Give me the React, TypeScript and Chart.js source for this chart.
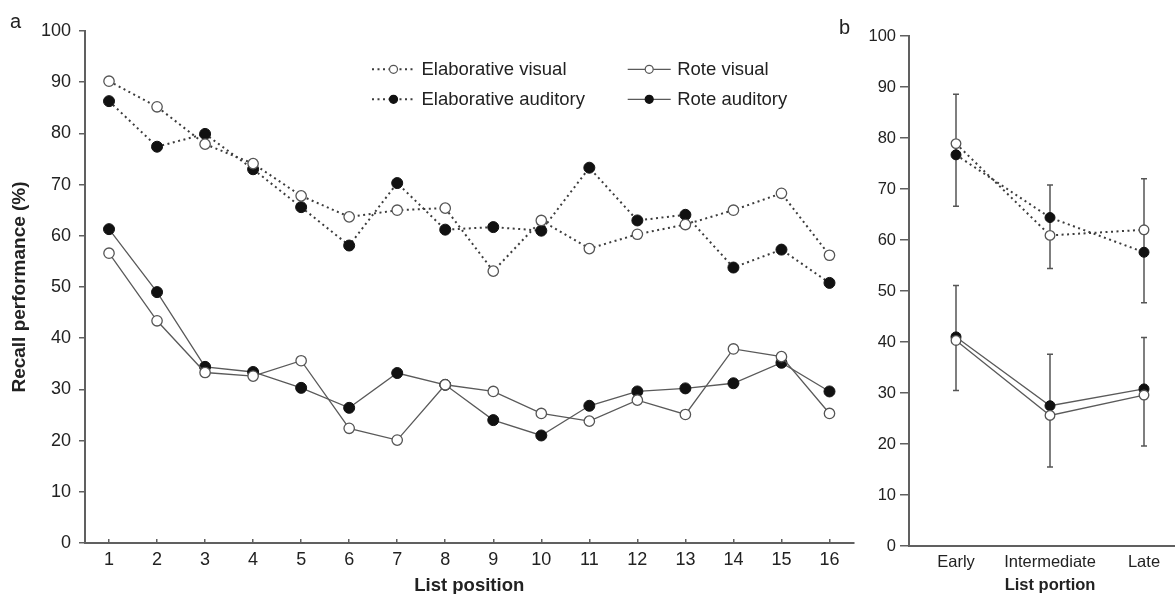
import React, { useEffect, useRef } from "react";
import { Chart, registerables } from "chart.js";

Chart.register(...registerables);

// ---------- data ----------
const listPositions = ["1", "2", "3", "4", "5", "6", "7", "8", "9", "10", "11", "12", "13", "14", "15", "16"];
const seriesNames = ["Elaborative visual", "Elaborative auditory", "Rote visual", "Rote auditory"];
const elabVisual = [90.2, 85.2, 77.9, 74.1, 67.8, 63.7, 65.0, 65.4, 53.1, 63.0, 57.5, 60.3, 62.2, 65.0, 68.3, 56.2];
const elabAuditory = [86.3, 77.4, 79.9, 73.0, 65.6, 58.1, 70.3, 61.2, 61.7, 61.0, 73.3, 63.0, 64.1, 53.8, 57.3, 50.8];
const roteVisual = [56.6, 43.4, 33.3, 32.6, 35.6, 22.4, 20.1, 30.9, 29.6, 25.3, 23.8, 27.9, 25.1, 37.9, 36.4, 25.3];
const roteAuditory = [61.3, 49.0, 34.4, 33.4, 30.3, 26.4, 33.2, 30.9, 24.0, 21.0, 26.8, 29.6, 30.2, 31.2, 35.2, 29.6];

const listPortions = ["Early", "Intermediate", "Late"];
const portionElabVisual = [78.9, 60.9, 62.0];
const portionElabAuditory = [76.7, 64.4, 57.6];
const portionRoteVisual = [40.3, 25.6, 29.6];
const portionRoteAuditory = [41.0, 27.5, 30.8];
const elabErrLow = [66.6, 54.4, 47.7];
const elabErrHigh = [88.6, 70.8, 72.0];
const roteErrLow = [30.5, 15.5, 19.6];
const roteErrHigh = [51.1, 37.6, 40.9];

const yMin = 0;
const yMax = 100;
const yStep = 10;

// ---------- styles ----------
const FONT = '"Liberation Sans", Arial, Helvetica, sans-serif';
const AXIS = "#606060";
const TEXT = "#222";

function lineSet(label: string, data: number[], dotted: boolean, filled: boolean, r: number) {
  return {
    label,
    data,
    borderColor: dotted ? "#3c3c3c" : "#5a5a5a",
    borderWidth: dotted ? 2 : 1.3,
    borderDash: dotted ? [2, 3.5] : [],
    borderCapStyle: "butt",
    pointRadius: r,
    pointHoverRadius: r,
    pointBackgroundColor: filled ? "#111" : "#fff",
    pointBorderColor: filled ? "#111" : "#555",
    pointBorderWidth: filled ? 1 : 1.3,
    tension: 0,
    fill: false,
  };
}

function panelLabel(text: string, x: number, y: number) {
  return {
    id: "panelLabel" + text,
    afterDraw(chart: any) {
      const ctx = chart.ctx;
      ctx.save();
      ctx.font = `20px ${FONT}`;
      ctx.fillStyle = TEXT;
      ctx.textBaseline = "alphabetic";
      ctx.textAlign = "left";
      ctx.fillText(text, x, y);
      ctx.restore();
    },
  };
}

const legendPlugin = {
  id: "customLegend",
  afterDraw(chart: any) {
    const ctx = chart.ctx;
    const cols = [372, 627.7];
    const rows = [69.3, 99.3];
    const styles = [
      { dotted: true, filled: false },
      { dotted: true, filled: true },
      { dotted: false, filled: false },
      { dotted: false, filled: true },
    ];
    ctx.save();
    seriesNames.forEach((name, i) => {
      const x = cols[Math.floor(i / 2)];
      const y = rows[i % 2];
      const s = styles[i];
      ctx.beginPath();
      ctx.strokeStyle = s.dotted ? "#3c3c3c" : "#5a5a5a";
      ctx.lineWidth = s.dotted ? 2 : 1.3;
      ctx.setLineDash(s.dotted ? [2, 3.5] : []);
      ctx.moveTo(x, y);
      ctx.lineTo(x + 43, y);
      ctx.stroke();
      ctx.setLineDash([]);
      ctx.beginPath();
      ctx.arc(x + 21.5, y, 4, 0, Math.PI * 2);
      ctx.fillStyle = s.filled ? "#111" : "#fff";
      ctx.fill();
      ctx.lineWidth = 1.2;
      ctx.strokeStyle = s.filled ? "#111" : "#555";
      ctx.stroke();
      ctx.font = `18.5px ${FONT}`;
      ctx.fillStyle = TEXT;
      ctx.textAlign = "left";
      ctx.textBaseline = "middle";
      ctx.fillText(name, x + 49.5, y + 0.5);
    });
    ctx.restore();
  },
};

const errorBarPlugin = {
  id: "errorBars",
  beforeDatasetsDraw(chart: any) {
    const ctx = chart.ctx;
    const xs = chart.scales.x;
    const ys = chart.scales.y;
    const groups = [
      [elabErrLow, elabErrHigh],
      [roteErrLow, roteErrHigh],
    ];
    ctx.save();
    ctx.strokeStyle = "#555";
    ctx.lineWidth = 1.5;
    groups.forEach(([lo, hi]) => {
      lo.forEach((v, i) => {
        const x = xs.getPixelForValue(i);
        const y1 = ys.getPixelForValue(v);
        const y2 = ys.getPixelForValue(hi[i]);
        ctx.beginPath();
        ctx.moveTo(x, y1);
        ctx.lineTo(x, y2);
        ctx.moveTo(x - 3, y1);
        ctx.lineTo(x + 3, y1);
        ctx.moveTo(x - 3, y2);
        ctx.lineTo(x + 3, y2);
        ctx.stroke();
      });
    });
    ctx.restore();
  },
};

export default function App() {
  const refA = useRef<HTMLCanvasElement | null>(null);
  const refB = useRef<HTMLCanvasElement | null>(null);

  useEffect(() => {
    if (!refA.current || !refB.current) return;

    const chartA = new Chart(refA.current, {
      type: "line",
      data: {
        labels: listPositions,
        datasets: [
          lineSet(seriesNames[0], elabVisual, true, false, 5.2),
          lineSet(seriesNames[1], elabAuditory, true, true, 5.5),
          lineSet(seriesNames[2], roteVisual, false, false, 5.2),
          lineSet(seriesNames[3], roteAuditory, false, true, 5.5),
        ] as any,
      },
      options: {
        responsive: false,
        animation: false,
        layout: { padding: { top: 31, right: 5, left: 0, bottom: 0 } },
        plugins: { legend: { display: false }, tooltip: { enabled: false } },
        scales: {
          x: {
            type: "category",
            offset: true,
            grid: { display: true, drawOnChartArea: false, drawTicks: true, tickLength: -4, offset: false, color: AXIS, lineWidth: 1.5 },
            border: { display: true, color: AXIS, width: 2 },
            ticks: { padding: 10, color: TEXT, font: { size: 18, family: FONT }, autoSkip: false, maxRotation: 0 },
            title: { display: true, text: "List position", color: TEXT, font: { size: 18.5, weight: "bold", family: FONT, lineHeight: 1 }, padding: { top: 0, bottom: -1 } },
            afterFit: (s: any) => { s.height = 51; },
          },
          y: {
            min: yMin,
            max: yMax,
            ticks: { stepSize: yStep, padding: 8, color: TEXT, font: { size: 18, family: FONT } },
            grid: { display: true, drawOnChartArea: false, drawTicks: true, tickLength: 6, color: AXIS, lineWidth: 1.5 },
            border: { display: true, color: AXIS, width: 2 },
            title: { display: true, text: "Recall performance (%)", color: TEXT, font: { size: 19, weight: "bold", family: FONT, lineHeight: 1.2 }, padding: { top: 8.5, bottom: 0 } },
            afterFit: (s: any) => { s.width = 85; },
          },
        },
      } as any,
      plugins: [legendPlugin, panelLabel("a", 10, 28)],
    });

    const chartB = new Chart(refB.current, {
      type: "line",
      data: {
        labels: listPortions,
        datasets: [
          lineSet(seriesNames[0], portionElabVisual, true, false, 4.8),
          lineSet(seriesNames[1], portionElabAuditory, true, true, 5),
          lineSet(seriesNames[2], portionRoteVisual, false, false, 4.8),
          lineSet(seriesNames[3], portionRoteAuditory, false, true, 5),
        ] as any,
      },
      options: {
        responsive: false,
        animation: false,
        layout: { padding: { top: 36, right: 9, left: 0, bottom: 0 } },
        plugins: { legend: { display: false }, tooltip: { enabled: false } },
        scales: {
          x: {
            type: "category",
            offset: true,
            grid: { display: false, drawTicks: false },
            border: { display: true, color: AXIS, width: 2 },
            ticks: { padding: 6.4, color: TEXT, font: { size: 16.5, family: FONT }, autoSkip: false, maxRotation: 0 },
            title: { display: true, text: "List portion", color: TEXT, font: { size: 16.5, weight: "bold", family: FONT, lineHeight: 1 }, padding: { top: 0, bottom: 0 } },
            afterFit: (s: any) => { s.height = 48; },
          },
          y: {
            min: yMin,
            max: yMax,
            ticks: { stepSize: yStep, padding: 4, color: TEXT, font: { size: 16.5, family: FONT } },
            grid: { display: true, drawOnChartArea: false, drawTicks: true, tickLength: 9, color: AXIS, lineWidth: 1.5 },
            border: { display: true, color: AXIS, width: 2 },
            afterFit: (s: any) => { s.width = 79; },
          },
        },
      } as any,
      plugins: [errorBarPlugin, panelLabel("b", 9, 34)],
    });

    return () => {
      chartA.destroy();
      chartB.destroy();
    };
  }, []);

  return (
    <div style={{ position: "absolute", left: 0, top: 0, width: 1175, height: 594, overflow: "hidden", background: "#fff" }}>
      <canvas ref={refA} width={860} height={594} style={{ position: "absolute", left: 0, top: 0, width: 860, height: 594 }} />
      <canvas ref={refB} width={370} height={594} style={{ position: "absolute", left: 830, top: 0, width: 370, height: 594 }} />
    </div>
  );
}
